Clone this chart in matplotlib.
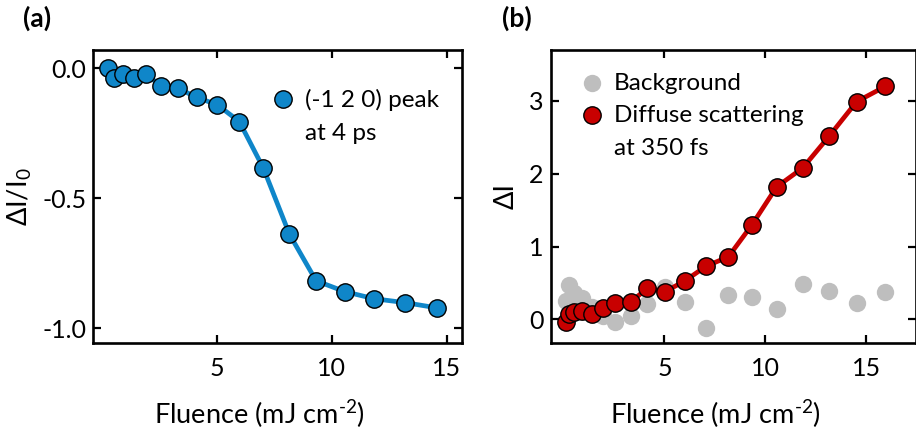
import matplotlib
matplotlib.use("Agg")
import matplotlib.pyplot as plt
import numpy as np

plt.rcParams['font.family'] = ['Lato', 'DejaVu Sans']
plt.rcParams['mathtext.default'] = 'regular'
plt.rcParams['axes.unicode_minus'] = False

# Panel (a): (-1 2 0) Bragg peak intensity change at 4 ps
fluence_a = [0.25, 0.55, 0.91, 1.38, 1.91, 2.58, 3.30, 4.13, 5.03, 5.98,
             7.03, 8.16, 9.32, 10.58, 11.84, 13.19, 14.57]
peak_change = [0.0, -0.038, -0.023, -0.036, -0.022, -0.069, -0.077, -0.112,
               -0.141, -0.205, -0.385, -0.638, -0.817, -0.859, -0.886,
               -0.901, -0.921]

# Panel (b): diffuse scattering at 350 fs and background
fluence_b = [0.13, 0.28, 0.53, 0.94, 1.40, 1.95, 2.56, 3.34, 4.16, 5.03,
             6.02, 7.06, 8.17, 9.34, 10.56, 11.85, 13.17, 14.52, 15.94]
diffuse = [-0.04, 0.08, 0.10, 0.12, 0.07, 0.16, 0.23, 0.24, 0.43, 0.38,
           0.53, 0.73, 0.86, 1.30, 1.82, 2.08, 2.52, 2.99, 3.20]
background = [0.25, 0.47, 0.36, 0.29, 0.17, 0.05, -0.03, 0.04, 0.21, 0.45,
              0.24, -0.12, 0.33, 0.31, 0.14, 0.48, 0.39, 0.22, 0.37]

xticks = [5, 10, 15]
yticks_a = [0.0, -0.5, -1.0]
yticks_b = [0, 1, 2, 3]

BLUE = '#0F86C9'
RED = '#C80000'
GRAY = '#BEBEBE'
FS_TICK = 18
FS_LEG = 17.5
FS_LAB = 19.5
MS = 12.5

fig = plt.figure(figsize=(9.16, 4.37), dpi=100)
ax_a = fig.add_axes([0.1019, 0.2158, 0.4028, 0.6698])
ax_b = fig.add_axes([0.6012, 0.2158, 0.3988, 0.6698])


def style(ax):
    for sp in ax.spines.values():
        sp.set_linewidth(1.9)
    ax.tick_params(direction='in', length=6, width=1.6, top=True, right=True,
                   labelsize=FS_TICK)
    ax.tick_params(axis='x', pad=10)
    ax.tick_params(axis='y', pad=5)


xlabel = 'Fluence (mJ cm$^{\u20102}$)'

# (a)
ax_a.plot(fluence_a, peak_change, '-', color=BLUE, lw=3.4, zorder=2)
ax_a.plot(fluence_a, peak_change, 'o', ms=MS, mfc=BLUE, mec='black', mew=1.0,
          zorder=3, clip_on=False)
ax_a.set_xlim(-0.37, 15.68)
ax_a.set_ylim(-1.055, 0.070)
ax_a.set_xticks(xticks)
ax_a.set_yticks(yticks_a)
ax_a.set_yticklabels([f'{v:.1f}' for v in yticks_a])
style(ax_a)
ax_a.set_xlabel(xlabel, fontsize=FS_LAB, labelpad=13)
ax_a.xaxis.set_label_coords(0.45, -0.19)
ax_a.set_ylabel('ΔI/I$_{0}$', fontsize=FS_LAB, labelpad=6)

ax_a.plot([0.514], [0.833], 'o', ms=MS, mfc=BLUE, mec='black', mew=1.0,
          transform=ax_a.transAxes, clip_on=False)
ax_a.text(0.573, 0.8036, '(-1 2 0) peak', transform=ax_a.transAxes,
          fontsize=FS_LEG, va='baseline', ha='left')
ax_a.text(0.573, 0.6925, 'at 4 ps', transform=ax_a.transAxes,
          fontsize=FS_LEG, va='baseline', ha='left')

# (b)
ax_b.plot(fluence_b, background, 'o', ms=MS, mfc=GRAY, mec='none', zorder=1)
ax_b.plot(fluence_b, diffuse, '-', color=RED, lw=3.4, zorder=2)
ax_b.plot(fluence_b, diffuse, 'o', ms=MS, mfc=RED, mec='black', mew=1.0,
          zorder=3)
ax_b.set_xlim(-0.63, 17.46)
ax_b.set_ylim(-0.32, 3.70)
ax_b.set_xticks(xticks)
ax_b.set_yticks(yticks_b)
style(ax_b)
ax_b.set_xlabel(xlabel, fontsize=FS_LAB, labelpad=13)
ax_b.xaxis.set_label_coords(0.45, -0.19)
ax_b.set_ylabel('ΔI', fontsize=FS_LAB, labelpad=8)

ax_b.plot([0.113], [0.888], 'o', ms=MS, mfc=GRAY, mec='none',
          transform=ax_b.transAxes, clip_on=False)
ax_b.plot([0.113], [0.778], 'o', ms=MS, mfc=RED, mec='black', mew=1.0,
          transform=ax_b.transAxes, clip_on=False)
ax_b.text(0.173, 0.8627, 'Background', transform=ax_b.transAxes,
          fontsize=FS_LEG, va='baseline', ha='left')
ax_b.text(0.173, 0.7523, 'Diffuse scattering', transform=ax_b.transAxes,
          fontsize=FS_LEG, va='baseline', ha='left')
ax_b.text(0.173, 0.6413, 'at 350 fs', transform=ax_b.transAxes,
          fontsize=FS_LEG, va='baseline', ha='left')

fig.text(37.5 / 916, 1 - 18 / 437, '(a)', fontsize=19, fontweight='bold',
         ha='center', va='center')
fig.text(517 / 916, 1 - 18 / 437, '(b)', fontsize=19, fontweight='bold',
         ha='center', va='center')

fig.savefig('out.png', dpi=100)
